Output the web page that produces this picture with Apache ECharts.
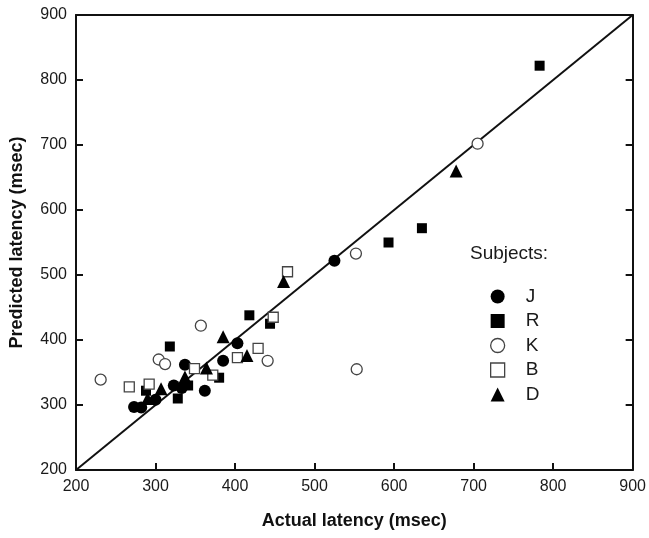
<!DOCTYPE html>
<html style="height: 100%">
<head>
    <meta charset="utf-8">
    <script type="text/javascript" src="https://cdn.jsdelivr.net/npm/echarts@6/dist/echarts.min.js"></script>
</head>
<body style="height: 100%; margin: 0; background: #fff">
    <div id="container" style="width: 649px; height: 538px"></div>
    <script type="text/javascript">
        // [actual, predicted] per subject
        var dataJ = [[273, 297], [282, 296], [300, 308], [323, 330], [333, 326], [337, 362], [362, 322], [385, 368], [403, 395], [525, 522]];
        var dataR = [[288, 322], [318, 390], [328, 310], [341, 330], [380, 342], [418, 438], [444, 425], [593, 550], [635, 572], [783, 822]];
        var dataK = [[231, 339], [304, 370], [312, 363], [357, 422], [441, 368], [552, 533], [553, 355], [705, 702]];
        var dataB = [[267, 328], [292, 332], [349, 356], [372, 346], [403, 373], [429, 387], [448, 435], [466, 505]];
        var dataD = [[290, 310], [307, 325], [337, 343], [364, 357], [385, 405], [415, 376], [461, 490], [678, 660]];
        var identity = [[200, 200], [900, 900]];
        var axisTicks = [200, 300, 400, 500, 600, 700, 800, 900];

        var dom = document.getElementById("container");
        var myChart = echarts.init(dom);
        var font = 'Liberation Sans, Arial, sans-serif';
        var ink = '#111';

        function axisBase(extra) {
            var a = {
                type: 'value',
                min: axisTicks[0],
                max: axisTicks[axisTicks.length - 1],
                interval: 100,
                axisLine: { show: true, onZero: false, lineStyle: { color: ink, width: 2 } },
                axisTick: { show: true, inside: true, length: 7, lineStyle: { color: ink, width: 2 } },
                axisLabel: { show: true, color: '#1a1a1a', fontSize: 16, fontFamily: font },
                splitLine: { show: false }
            };
            for (var k in extra) a[k] = extra[k];
            return a;
        }

        function scatter(name, data, symbol, size, filled) {
            return {
                name: name,
                type: 'scatter',
                data: data,
                symbol: symbol,
                symbolSize: size,
                itemStyle: filled
                    ? { color: '#000', opacity: 1 }
                    : { color: '#fff', borderColor: '#444', borderWidth: 1.3, opacity: 1 },
                z: 3
            };
        }

        var option = {
            animation: false,
            grid: { left: 75, right: 14, top: 15, bottom: 68 },
            xAxis: [
                axisBase({
                    position: 'bottom',
                    name: 'Actual latency (msec)',
                    nameLocation: 'middle',
                    nameGap: 42,
                    nameTextStyle: { color: ink, fontSize: 18, fontWeight: 'bold', fontFamily: font },
                    axisLabel: { color: '#1a1a1a', fontSize: 16, fontFamily: font, margin: 9 }
                }),
                axisBase({
                    position: 'top',
                    axisTick: { show: false },
                    axisLabel: { show: false }
                })
            ],
            yAxis: [
                axisBase({
                    position: 'left',
                    name: 'Predicted latency (msec)',
                    nameLocation: 'middle',
                    nameGap: 50,
                    nameTextStyle: { color: ink, fontSize: 18, fontWeight: 'bold', fontFamily: font },
                    axisLabel: { color: '#1a1a1a', fontSize: 16, fontFamily: font, margin: 9 }
                }),
                axisBase({
                    position: 'right',
                    axisLabel: { show: false }
                })
            ],
            legend: {
                orient: 'vertical',
                left: 485,
                top: 282,
                itemWidth: 14,
                itemHeight: 14,
                itemGap: 5.5,
                textStyle: { color: '#1a1a1a', fontSize: 19, fontFamily: font, padding: [0, 0, 0, 16] },
                data: [
                    { name: 'J', icon: 'circle', itemStyle: { color: '#000' } },
                    { name: 'R', icon: 'rect', itemStyle: { color: '#000' } },
                    { name: 'K', icon: 'circle', itemStyle: { color: '#fff', borderColor: '#444', borderWidth: 1.3 } },
                    { name: 'B', icon: 'rect', itemStyle: { color: '#fff', borderColor: '#444', borderWidth: 1.3 } },
                    { name: 'D', icon: 'triangle', itemStyle: { color: '#000' } }
                ]
            },
            graphic: [{
                type: 'text',
                left: 470,
                top: 244,
                style: { text: 'Subjects:', fill: '#1a1a1a', fontSize: 19, fontFamily: font }
            }],
            series: [
                {
                    type: 'line',
                    data: identity,
                    symbol: 'none',
                    silent: true,
                    lineStyle: { color: ink, width: 2 },
                    z: 2
                },
                scatter('J', dataJ, 'circle', 12, true),
                scatter('R', dataR, 'rect', 10, true),
                scatter('K', dataK, 'circle', 11, false),
                scatter('B', dataB, 'rect', 10, false),
                scatter('D', dataD, 'triangle', 13, true)
            ]
        };

        myChart.setOption(option);
    </script>
</body>
</html>
